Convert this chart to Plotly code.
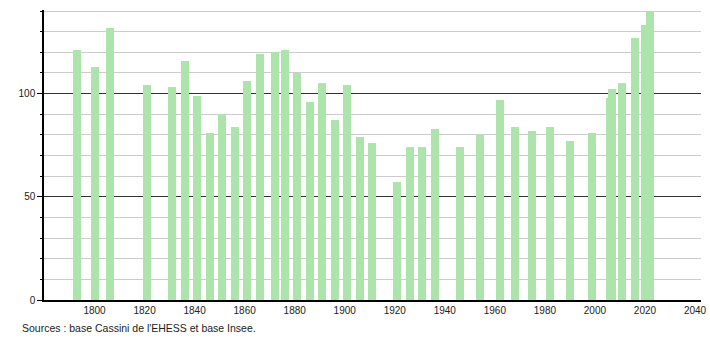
import plotly.graph_objects as go

years = [1793, 1800, 1806, 1821, 1831, 1836, 1841, 1846, 1851, 1856,
         1861, 1866, 1872, 1876, 1881, 1886, 1891, 1896, 1901, 1906,
         1911, 1921, 1926, 1931, 1936, 1946, 1954, 1962, 1968, 1975,
         1982, 1990, 1999, 2006, 2007, 2011, 2016, 2020, 2022]
population = [121, 113, 132, 104, 103, 116, 99, 81, 90, 84,
              106, 119, 120, 121, 110, 96, 105, 87, 104, 79,
              76, 57, 74, 74, 83, 74, 80, 97, 84, 82,
              84, 77, 81, 98, 102, 105, 127, 133, 140]
x_ticks = [1800, 1820, 1840, 1860, 1880, 1900, 1920, 1940, 1960, 1980, 2000, 2020, 2040]
y_ticks = [0, 50, 100]
source_text = "Sources : base Cassini de l'EHESS et base Insee."

font = dict(family="Liberation Sans, Arial, sans-serif", size=10, color="#222")
src_font = dict(family="Liberation Sans, Arial, sans-serif", size=10.5, color="#222")

fig = go.Figure(go.Bar(
    x=years, y=population, width=3.2,
    marker=dict(color="rgb(172,228,172)", line=dict(width=0)),
    hoverinfo="x+y",
))

fig.update_layout(
    width=710, height=340,
    margin=dict(l=44, r=9, t=10, b=40, autoexpand=False),
    paper_bgcolor="white", plot_bgcolor="white",
    font=font, showlegend=False, bargap=0,
)
fig.update_xaxes(
    range=[1779.8, 2042.4], tickmode="array", tickvals=x_ticks,
    ticktext=[str(t) for t in x_ticks], automargin=False,
    showgrid=False, zeroline=False, showline=True, linecolor="black", linewidth=1.5,
    ticks="", tickfont=font,
)
fig.update_yaxes(
    range=[0, 140.5], tickmode="array", tickvals=y_ticks, automargin=False,
    showgrid=True, gridcolor="#333", gridwidth=1,
    zeroline=False, showline=True, linecolor="black", linewidth=1.5,
    ticks="outside", ticklen=5, tickcolor="black", tickfont=font,
    minor=dict(dtick=10, tick0=0, showgrid=True, gridcolor="#cccccc", gridwidth=1,
               ticks="outside", ticklen=2, tickcolor="black"),
)
fig.add_annotation(
    text=source_text, xref="paper", yref="paper",
    x=(20 - 44) / 657, y=(300 - 328) / 290, xanchor="left", yanchor="middle",
    showarrow=False, font=src_font,
)
fig.write_html("out.html")
